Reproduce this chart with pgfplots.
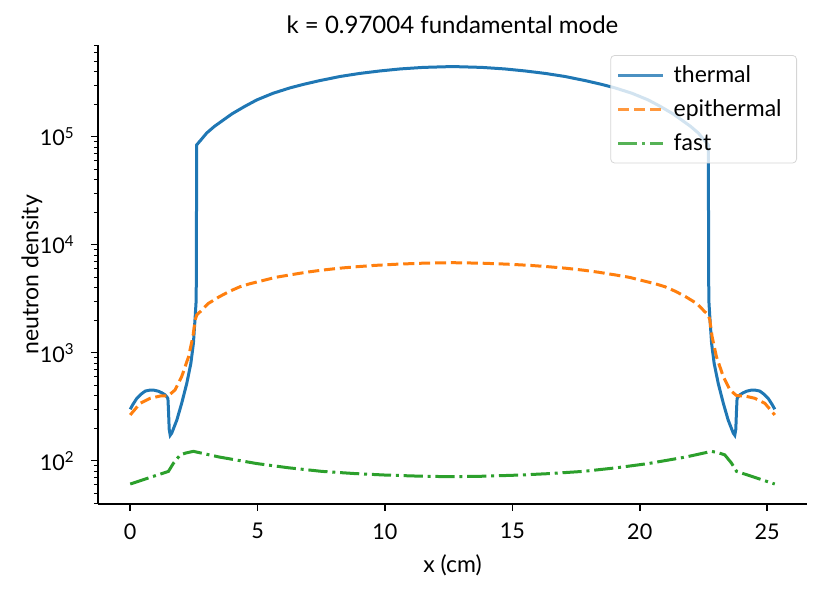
\documentclass[border=0pt]{standalone}
\usepackage{fontspec}
\setmainfont{Lato}
\usepackage{pgfplots}
\pgfplotsset{compat=1.18}
\definecolor{c0}{HTML}{1F77B4}
\definecolor{c1}{HTML}{FF7F0E}
\definecolor{c2}{HTML}{2CA02C}
\begin{document}
\begin{tikzpicture}
\begin{axis}[
  at={(0,0)}, anchor=south west,
  scale only axis, width=354.5pt, height=229.5pt,
  ymode=log, xmin=-1.265, xmax=26.565, ymin=39.7, ymax=7.06e5,
  axis x line*=bottom, axis y line*=left,
  axis line style={line width=0.8pt, -},
  tick align=outside, major tick length=3.5pt, minor tick length=2pt,
  every tick/.style={black, line width=0.8pt},
  minor tick style={line width=0.6pt},
  xtick={0,5,10,15,20,25}, xticklabels={0,5,10,15,20,25}, minor xtick={},
  ytick={100,1000,10000,100000},
  yticklabels={10\textsuperscript{2},10\textsuperscript{3},10\textsuperscript{4},10\textsuperscript{5}},
  minor ytick={40,50,60,70,80,90,200,300,400,500,600,700,800,900,2000,3000,4000,5000,6000,7000,8000,9000,20000,30000,40000,50000,60000,70000,80000,90000,200000,300000,400000,500000,600000,700000},
  tick label style={font=\fontsize{10.8}{13}\selectfont},
  xticklabel style={anchor=north, inner sep=0pt, yshift=-6pt},
  yticklabel style={anchor=east, inner sep=0pt, xshift=-8pt},
  every axis title shift=0pt,
  title={k = 0.97004 fundamental mode},
  title style={font=\fontsize{12}{14}\selectfont, at={(axis description cs:0.5,1)}, anchor=base, yshift=6pt},
  xlabel={x (cm)}, ylabel={neutron density},
  label style={font=\fontsize{11.5}{13}\selectfont},
  xlabel style={at={(axis description cs:0.5,-0.1329)}, anchor=center},
  ylabel style={at={(axis description cs:-0.0931,0.5)}, anchor=center},
  legend style={at={(axis description cs:1,1)}, anchor=north east, xshift=-5pt, yshift=-5pt,
    draw=black!20, rounded corners=2pt, fill=white, fill opacity=0.8, draw opacity=0.8, text opacity=1,
    font=\fontsize{11.5}{13}\selectfont, inner xsep=3pt, inner ysep=3.5pt, row sep=4pt,
    nodes={inner xsep=4.5pt, inner ysep=1.5pt}},
  legend cell align=left,
  legend image code/.code={\draw[#1] (0pt,0pt) -- (22.5pt,0pt);},
]
\addplot[c0, line width=1.5pt] coordinates {
(0,299) (0.1,330) (0.26,378) (0.42,412) (0.59,441) (0.75,449) (0.92,450) (1.1,440) (1.24,425) (1.36,408) (1.44,390) (1.48,375) (1.50,300) (1.53,195) (1.57,172) (1.63,180) (1.83,238) (2.02,340) (2.22,520) (2.38,796) (2.48,1220) (2.55,2155) (2.59,3090) (2.61,84000) (2.8,94800) (3.0,108000) (3.3,124300) (3.66,143000) (4.0,163000) (4.5,191000) (4.97,219000) (5.6,252000) (6.27,283000) (6.8,305000) (7.4,329000) (8.24,361000) (9.0,385000) (9.8,406000) (10.6,424000) (11.5,438000) (12.65,446000)
(13.8,438000) (14.7,424000) (15.5,406000) (16.3,385000) (17.06,361000) (17.9,329000) (18.5,305000) (19.03,283000) (19.7,252000) (20.33,219000) (20.8,191000) (21.3,163000) (21.64,143000) (22.0,124300) (22.3,108000) (22.5,94800) (22.69,84000) (22.71,3090) (22.75,2155) (22.82,1220) (22.92,796) (23.08,520) (23.28,340) (23.47,238) (23.67,180) (23.73,172) (23.77,195) (23.80,300) (23.82,375) (23.86,390) (23.94,408) (24.06,425) (24.2,440) (24.38,450) (24.55,449) (24.71,441) (24.88,412) (25.04,378) (25.2,330) (25.3,299)
};
\addlegendentry{thermal}
\addplot[c1, line width=1.5pt, dash pattern=on 5.55pt off 2.4pt] coordinates {
(0,265) (0.39,340) (0.78,378) (1.18,397) (1.50,400) (1.76,452) (2.02,600) (2.29,918) (2.46,1406) (2.55,2010) (2.61,2230) (2.75,2400) (3.07,2860) (3.5,3300) (3.9,3700) (4.31,4080) (4.7,4350) (5.2,4650) (5.7,4980) (6.27,5250) (6.9,5550) (7.5,5800) (8.2,6050) (8.89,6250) (9.6,6430) (10.5,6600) (11.5,6740) (12.65,6810)
(13.8,6740) (14.8,6600) (15.7,6430) (16.41,6250) (17.1,6050) (17.8,5800) (18.4,5550) (19.03,5250) (19.6,4980) (20.1,4650) (20.6,4350) (20.99,4080) (21.4,3700) (21.8,3300) (22.23,2860) (22.55,2400) (22.69,2230) (22.75,2010) (22.84,1406) (23.01,918) (23.28,600) (23.54,452) (23.8,400) (24.12,397) (24.52,378) (24.91,340) (25.3,265)
};
\addlegendentry{epithermal}
\addplot[c2, line width=1.5pt, dash pattern=on 9.6pt off 2.4pt on 1.5pt off 2.4pt] coordinates {
(0,60.8) (1.50,79.6) (1.7,95) (1.96,113) (2.2,118) (2.48,122) (3.5,108) (4.97,94) (6.2,86) (7.52,79.6) (8.8,76) (10,73.6) (11.4,71.8) (12.65,71)
(13.9,71.8) (15.3,73.6) (16.5,76) (17.78,79.6) (19.1,86) (20.33,94) (21.8,108) (22.82,122) (23.1,118) (23.34,113) (23.6,95) (23.8,79.6) (25.3,60.8)
};
\addlegendentry{fast}
\end{axis}
\pgfresetboundingbox
\path[use as bounding box] (-49pt,-43.5pt) rectangle (366pt,252pt);
\end{tikzpicture}
\end{document}
